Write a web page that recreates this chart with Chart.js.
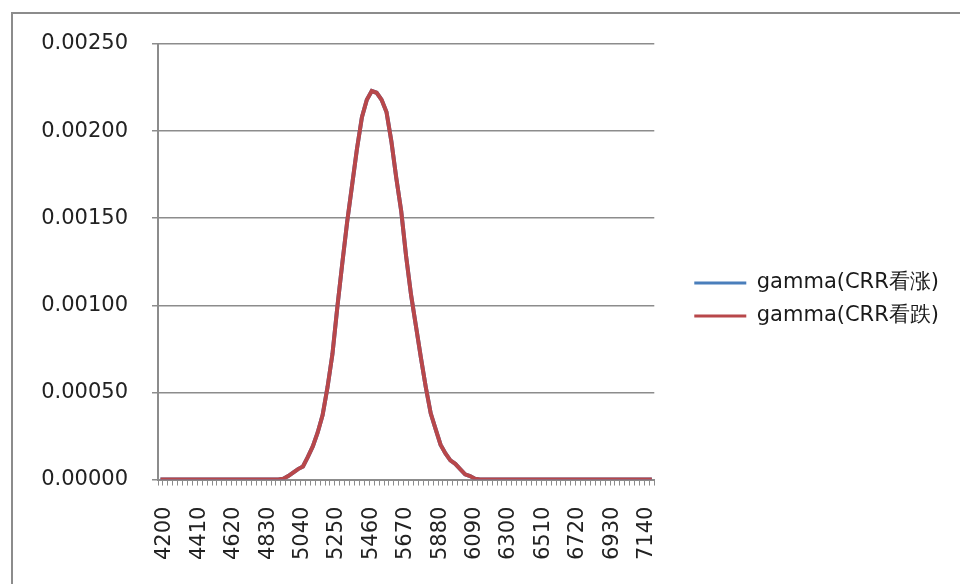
<!DOCTYPE html>
<html>
<head>
<meta charset="utf-8">
<script src="https://cdn.jsdelivr.net/npm/chart.js@4.4.1/dist/chart.umd.min.js"></script>
<style>
  html, body { margin: 0; padding: 0; background: #fff; overflow: hidden; }
  body { width: 960px; height: 584px; position: relative; }
  #frame {
    position: absolute; left: 11px; top: 12px; width: 960px; height: 600px;
    border-left: 2px solid #8c8c8c; border-top: 2px solid #8c8c8c;
  }
  #chart { position: absolute; left: 12px; top: 13px; }
</style>
</head>
<body>
<div id="frame"></div>
<canvas id="chart" width="948" height="571"></canvas>
<script>
// Strike prices (x categories)
const strikes = [
  4200, 4230, 4260, 4290, 4320, 4350, 4380, 4410, 4440, 4470,
  4500, 4530, 4560, 4590, 4620, 4650, 4680, 4710, 4740, 4770,
  4800, 4830, 4860, 4890, 4920, 4950, 4980, 5010, 5040, 5070,
  5100, 5130, 5160, 5190, 5220, 5250, 5280, 5310, 5340, 5370,
  5400, 5430, 5460, 5490, 5520, 5550, 5580, 5610, 5640, 5670,
  5700, 5730, 5760, 5790, 5820, 5850, 5880, 5910, 5940, 5970,
  6000, 6030, 6060, 6090, 6120, 6150, 6180, 6210, 6240, 6270,
  6300, 6330, 6360, 6390, 6420, 6450, 6480, 6510, 6540, 6570,
  6600, 6630, 6660, 6690, 6720, 6750, 6780, 6810, 6840, 6870,
  6900, 6930, 6960, 6990, 7020, 7050, 7080, 7110, 7140, 7170,
  7200
];

// gamma, put side
const gammaPut = [
  0, 0, 0, 0, 0, 0, 0, 0, 0, 0,
  0, 0, 0, 0, 0, 0, 0, 0, 0, 0,
  0, 0, 0, 0, 0, 0.000005, 0.00002, 0.00004, 0.00006, 0.000075,
  0.00013, 0.00019, 0.00027, 0.00037, 0.00053, 0.00072, 0.00099, 0.00124, 0.00148, 0.00169,
  0.0019, 0.00208, 0.00218, 0.00223, 0.00222, 0.00218, 0.00211, 0.00194, 0.00173, 0.00154,
  0.00128, 0.00106, 0.00088, 0.0007, 0.00053, 0.00038, 0.00029, 0.0002, 0.00015, 0.00011,
  0.00009, 0.00006, 0.00003, 0.00002, 0.000005, 0, 0, 0, 0, 0,
  0, 0, 0, 0, 0, 0, 0, 0, 0, 0,
  0, 0, 0, 0, 0, 0, 0, 0, 0, 0,
  0, 0, 0, 0, 0, 0, 0, 0, 0, 0,
  0
];

// gamma, call side - same curve, hidden under the put line
const gammaCall = gammaPut.slice();

const seriesNames = ['gamma(CRR看涨)', 'gamma(CRR看跌)'];
const seriesColors = ['#4a7ebb', '#b8474a'];

const FONT = 'DejaVu Sans';

new Chart(document.getElementById('chart'), {
  type: 'line',
  data: {
    labels: strikes,
    datasets: [
      {
        label: seriesNames[0],
        data: gammaCall,
        borderColor: seriesColors[0],
        backgroundColor: seriesColors[0],
        borderWidth: 4,
        pointRadius: 0,
        tension: 0,
        order: 1
      },
      {
        label: seriesNames[1],
        data: gammaPut,
        borderColor: seriesColors[1],
        backgroundColor: seriesColors[1],
        borderWidth: 4,
        pointRadius: 0,
        tension: 0,
        order: 0
      }
    ]
  },
  options: {
    responsive: false,
    animation: false,
    layout: { padding: { top: 31, bottom: 3, left: 0, right: 11 } },
    plugins: {
      tooltip: { enabled: false },
      legend: {
        position: 'right',
        align: 'start',
        maxWidth: 320,
        // empty title just pushes the two entries down
        title: { display: true, text: '', padding: { top: 202, bottom: 0 } },
        labels: {
          font: { family: FONT, size: 21 },
          color: '#1a1a1a',
          boxWidth: 52,
          boxHeight: 3,
          padding: 12,
          sort: (a, b) => a.datasetIndex - b.datasetIndex,
          generateLabels: chart => {
            const items = Chart.defaults.plugins.legend.labels.generateLabels(chart);
            items.forEach(it => { it.lineWidth = 0; });
            return items;
          }
        }
      }
    },
    scales: {
      x: {
        type: 'category',
        offset: true,
        grid: {
          display: true,
          offset: true,
          drawOnChartArea: false,
          drawTicks: true,
          tickLength: 6,
          color: '#8c8c8c'
        },
        border: { display: true, color: '#8c8c8c', width: 2 },
        ticks: {
          autoSkip: false,
          maxRotation: 90,
          minRotation: 90,
          padding: 21,
          labelOffset: 4.5,
          color: '#222',
          font: { family: FONT, size: 21 },
          callback: function (v, i) { return i % 7 === 0 ? strikes[i] : ''; }
        }
      },
      y: {
        min: 0,
        max: 0.0025,
        grid: { color: '#8c8c8c', lineWidth: 1.5, tickLength: 6 },
        border: { display: true, color: '#8c8c8c', width: 2 },
        ticks: {
          stepSize: 0.0005,
          padding: 24,
          color: '#222',
          font: { family: FONT, size: 21 },
          callback: v => v.toFixed(5)
        },
        afterFit: s => { s.width = 146; s.paddingTop = 0; s.paddingBottom = 0; }
      },
      // empty spacer between plot and legend
      gap: {
        type: 'linear',
        axis: 'y',
        position: 'right',
        display: true,
        grid: { display: false },
        border: { display: false },
        ticks: { display: false },
        afterFit: s => { s.width = 28; s.paddingTop = 0; s.paddingBottom = 0; }
      }
    }
  }
});
</script>
</body>
</html>
